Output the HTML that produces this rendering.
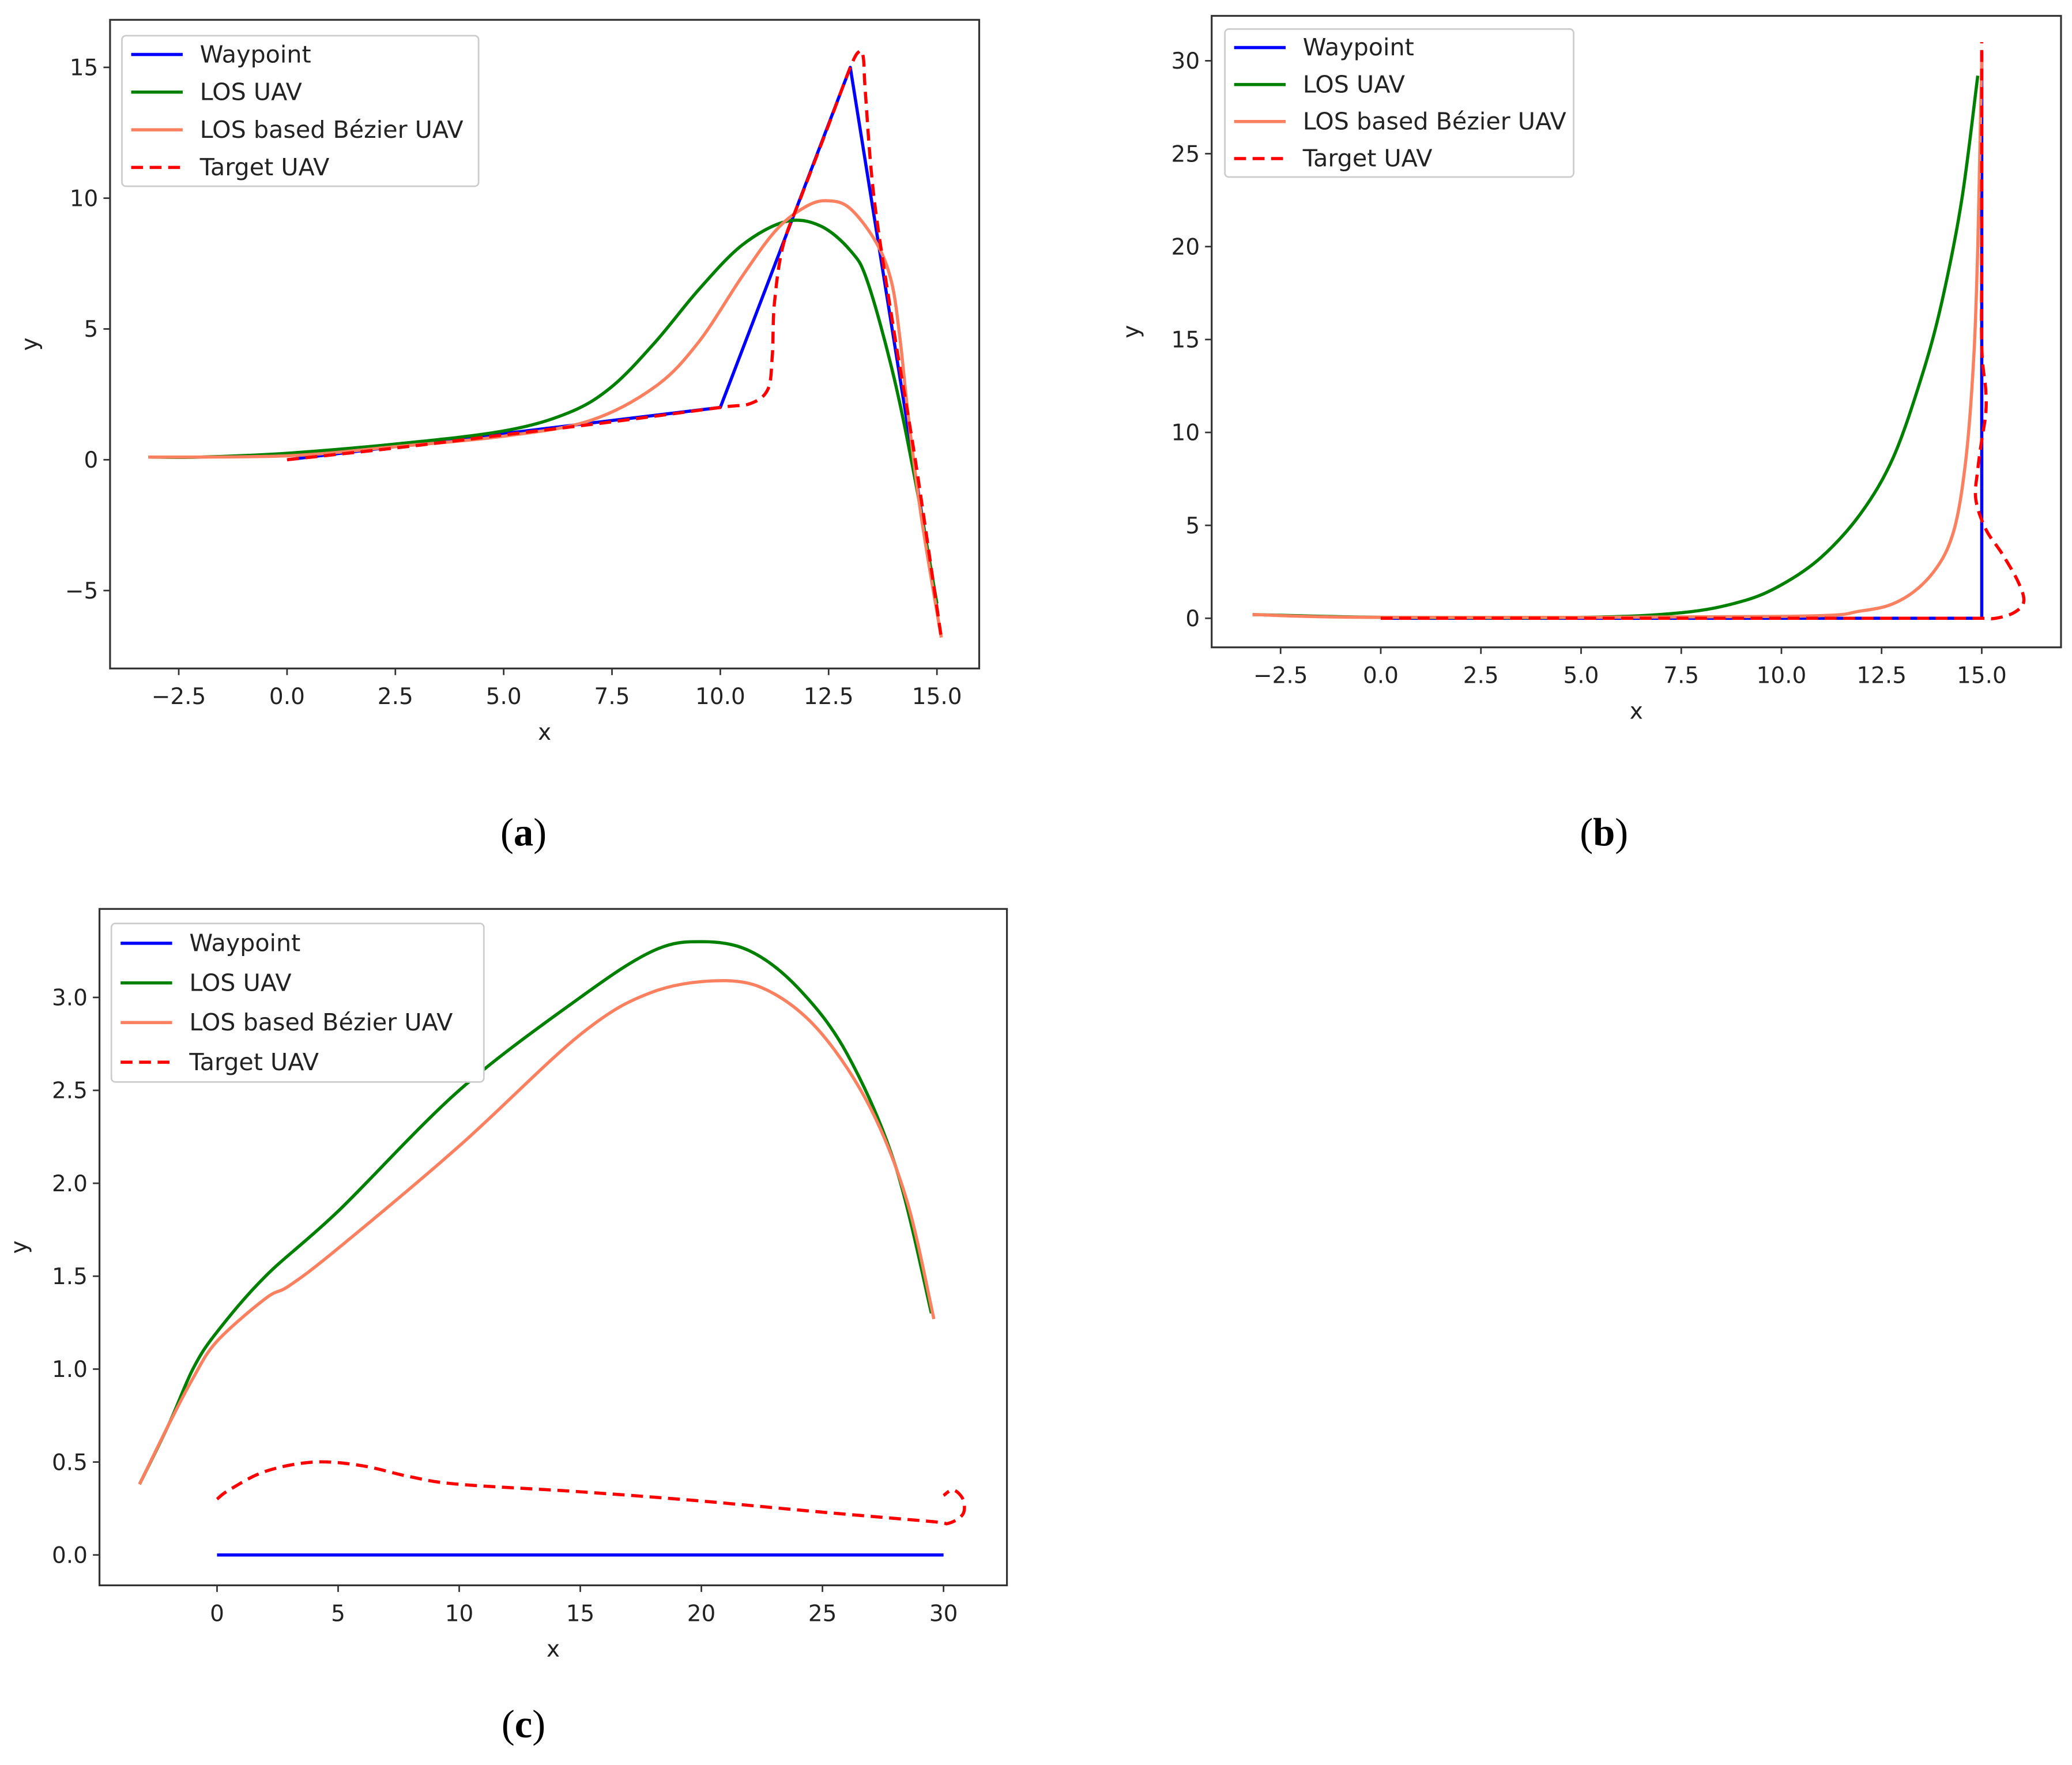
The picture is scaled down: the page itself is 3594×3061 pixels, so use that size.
<!DOCTYPE html>
<html><head><meta charset="utf-8">
<style>
html,body{margin:0;padding:0;background:#fff;}
svg{display:block;}
text{font-family:"DejaVu Sans","Liberation Sans",sans-serif;fill:#222;}
.cap{font-family:"Liberation Serif",serif;font-size:30px;fill:#000;}
</style></head>
<body>
<svg id="fig" xmlns="http://www.w3.org/2000/svg" width="3594" height="3061" viewBox="0 0 1568 1336"></svg>
<script>
// ---- Panel (a) data ----
const aWayX=[0,10,13,15];
const aWayY=[0,2,15,-5.7];
const aLosX=[-3.2,-2,0,2.5,5,6.5,7.5,8.5,9.5,10.5,11.5,12.3,13,13.4,14,14.5,15];
const aLosY=[0.1,0.1,0.25,0.6,1.1,1.8,2.8,4.5,6.5,8.2,9.1,8.95,8.0,6.8,3.2,-0.8,-5.5];
const aBezX=[-3.2,0,2.5,5,7,8.5,9.5,10.5,11.3,12,12.5,13,13.6,13.95,14.15,14.35,14.65,15.1];
const aBezY=[0.1,0.15,0.5,0.9,1.5,2.8,4.5,7.0,8.8,9.7,9.9,9.6,8.3,6.8,4.6,1.5,-2.3,-6.8];
const aTgtX=[0,2.5,5,7.5,10,10.7,11.1,11.2,11.25,11.45,11.9,12.5,13.0,13.2,13.3,13.35,13.55,14.0,14.5,15.1];
const aTgtY=[0,0.45,0.95,1.45,2.0,2.15,2.7,4.0,6,8.2,10.2,12.8,15,15.6,15.4,14,10,5,0,-6.8];
const aXTicks=[-2.5,0,2.5,5,7.5,10,12.5,15];
const aXLabels=["\u22122.5","0.0","2.5","5.0","7.5","10.0","12.5","15.0"];
const aYTicks=[-5,0,5,10,15];
const aYLabels=["\u22125","0","5","10","15"];
// ---- Panel (b) data ----
const bWayX=[0,15,15];
const bWayY=[0,0,30.5];
const bLosX=[-3.2,0,5,7.5,9,10,11,12,12.8,13.5,14,14.5,14.9];
const bLosY=[0.2,0.05,0.05,0.3,0.9,1.8,3.3,5.7,8.7,13,17,22.5,29.2];
const bBezX=[-3.2,0,10,12,13,13.8,14.3,14.6,14.8,14.9,14.95,15];
const bBezY=[0.2,0.05,0.1,0.4,1,2.5,4.7,8.5,14,20,25,30];
const bTgtX=[0,7,14,15,15.35,15.8,16.05,15.9,15.5,15.1,14.85,14.9,15,15.1,15.1,15,15,15];
const bTgtY=[0,0,0,0,0,0.3,0.9,2,3.5,4.8,6.4,8,9.6,11,12.3,14.6,20,31];
const bXTicks=[-2.5,0,2.5,5,7.5,10,12.5,15];
const bXLabels=["\u22122.5","0.0","2.5","5.0","7.5","10.0","12.5","15.0"];
const bYTicks=[0,5,10,15,20,25,30];
const bYLabels=["0","5","10","15","20","25","30"];
// ---- Panel (c) data ----
const cWayX=[0,30];
const cWayY=[0,0];
const cLosX=[-3.2,-2,-1,0,2,5,10,15,18,20,22,24,26,28,29.5];
const cLosY=[0.38,0.7,1.0,1.2,1.5,1.85,2.5,3.0,3.25,3.3,3.25,3.05,2.7,2.1,1.3];
const cBezX=[-3.2,-2,-1,0,2,3,5,10,15,18,21,23,25,27,28.5,29.6];
const cBezY=[0.38,0.7,0.95,1.15,1.38,1.45,1.65,2.2,2.8,3.03,3.09,3.02,2.8,2.4,1.9,1.27];
const cTgtX=[0,0.5,2,4,6,8,10,15,20,25,29.5,30.2,30.8,30.8,30.4,30];
const cTgtY=[0.3,0.35,0.45,0.5,0.48,0.42,0.38,0.34,0.29,0.23,0.18,0.17,0.22,0.3,0.35,0.32];
const cXTicks=[0,5,10,15,20,25,30];
const cXLabels=["0","5","10","15","20","25","30"];
const cYTicks=[0,0.5,1,1.5,2,2.5,3];
const cYLabels=["0.0","0.5","1.0","1.5","2.0","2.5","3.0"];

const NS="http://www.w3.org/2000/svg";
const fig=document.getElementById('fig');
function mk(tag,attrs,parent){const e=document.createElementNS(NS,tag);for(const k in attrs)e.setAttribute(k,attrs[k]);(parent||fig).appendChild(e);return e;}
function linScale(d0,d1,p0,p1){return v=>p0+(v-d0)*(p1-p0)/(d1-d0);}
function pathD(P,smooth){
  let d='M'+P[0][0].toFixed(1)+' '+P[0][1].toFixed(1);
  for(let i=0;i<P.length-1;i++){
    const p1=P[i],p2=P[i+1];
    if(!smooth){d+=' L'+p2[0].toFixed(1)+' '+p2[1].toFixed(1);continue;}
    const p0=P[i-1]||p1,p3=P[i+2]||p2;
    const c1=[p1[0]+(p2[0]-p0[0])/6,p1[1]+(p2[1]-p0[1])/6];
    const c2=[p2[0]-(p3[0]-p1[0])/6,p2[1]-(p3[1]-p1[1])/6];
    d+=' C'+c1[0].toFixed(1)+' '+c1[1].toFixed(1)+' '+c2[0].toFixed(1)+' '+c2[1].toFixed(1)+' '+p2[0].toFixed(1)+' '+p2[1].toFixed(1);
  }
  return d;
}

function panel(id,box,sx,sy,xt,xl,yt,yl,series,leg,cap){
  const g=mk('g',{});
  
  
  const frame=mk('rect',{x:box[0],y:box[1],width:box[2]-box[0],height:box[3]-box[1],fill:'none',stroke:'#333','stroke-width':1.4},g);
  
  
  xt.forEach((v,i)=>{
    const x=sx(v);
    const t=mk('line',{x1:x,x2:x,y1:box[3],y2:box[3]+5,stroke:'#333','stroke-width':1.2},g);
    
    
    const l=mk('text',{x:x,y:box[3]+27,'text-anchor':'middle','font-size':17},g);
    l.textContent=xl[i];
    
    
  });
  yt.forEach((v,i)=>{
    const y=sy(v);
    const t=mk('line',{x1:box[0]-5,x2:box[0],y1:y,y2:y,stroke:'#333','stroke-width':1.2},g);
    
    
    const l=mk('text',{x:box[0]-9,y:y+6,'text-anchor':'end','font-size':17},g);
    l.textContent=yl[i];
    
    
  });
  const xa=mk('text',{x:(box[0]+box[2])/2,y:box[3]+54,'text-anchor':'middle','font-size':17},g);
  xa.textContent='x';
  
  
  const yx=box[0]-55, yy=(box[1]+box[3])/2;
  const ya=mk('text',{x:yx,y:yy,'text-anchor':'middle','font-size':17,transform:'rotate(-90 '+yx+' '+yy+')'},g);
  ya.textContent='y';
  
  
  series.forEach(s=>{
    const P=s.xs.map((v,i)=>[sx(v),sy(s.ys[i])]);
    const p=mk('path',{d:pathD(P,s.name!=='waypoint'),fill:'none',stroke:s.c,'stroke-width':2.4,'stroke-linejoin':'round','stroke-dasharray':s.dash||'none'},g);
    
    
  });
  const lg=mk('g',{},g);
  
  
  const lr=mk('rect',{x:leg[0],y:leg[1],width:leg[2],height:leg[3],rx:3,fill:'#fff',stroke:'#ccc','stroke-width':1.2},lg);
  
  
  const step=leg[3]/4;
  series.forEach((s,i)=>{
    const y=leg[1]+step*(i+0.5);
    const ln=mk('line',{x1:leg[0]+7,x2:leg[0]+46,y1:y,y2:y,stroke:s.c,'stroke-width':2.4,'stroke-dasharray':s.dash||'none'},lg);
    
    
    const t=mk('text',{x:leg[0]+59,y:y+6,'font-size':18},lg);
    t.textContent=s.label;
    
    
  });
  const c=mk('text',{x:cap[0],y:cap[1],'text-anchor':'middle',class:'cap'},g);
  c.innerHTML='(<tspan font-weight="bold">'+id+'</tspan>)';
  
  
}
function ser(wx,wy,lx,ly,bx,by,tx,ty){
  return [
    {name:'waypoint',label:'Waypoint',c:'#0000ff',xs:wx,ys:wy},
    {name:'los-uav',label:'LOS UAV',c:'#008000',xs:lx,ys:ly},
    {name:'bezier-uav',label:'LOS based B\u00e9zier UAV',c:'#fa8060',xs:bx,ys:by},
    {name:'target-uav',label:'Target UAV',c:'#ff0000',dash:'9 5',xs:tx,ys:ty}
  ];
}
panel('a',[83,15,741,506],linScale(0,15,217,709),linScale(0,15,348,51),
  aXTicks,aXLabels,aYTicks,aYLabels,ser(aWayX,aWayY,aLosX,aLosY,aBezX,aBezY,aTgtX,aTgtY),
  [92,27,270,114],[396,640]);
panel('b',[917,12,1560,490],linScale(0,15,1045,1500),linScale(0,30,468,46),
  bXTicks,bXLabels,bYTicks,bYLabels,ser(bWayX,bWayY,bLosX,bLosY,bBezX,bBezY,bTgtX,bTgtY),
  [927,22,264,112],[1214,640]);
panel('c',[75,688,762,1200],linScale(0,30,164,714),linScale(0,3,1177,755),
  cXTicks,cXLabels,cYTicks,cYLabels,ser(cWayX,cWayY,cLosX,cLosY,cBezX,cBezY,cTgtX,cTgtY),
  [84,699,282,120],[396,1315]);
</script>
</body></html>
